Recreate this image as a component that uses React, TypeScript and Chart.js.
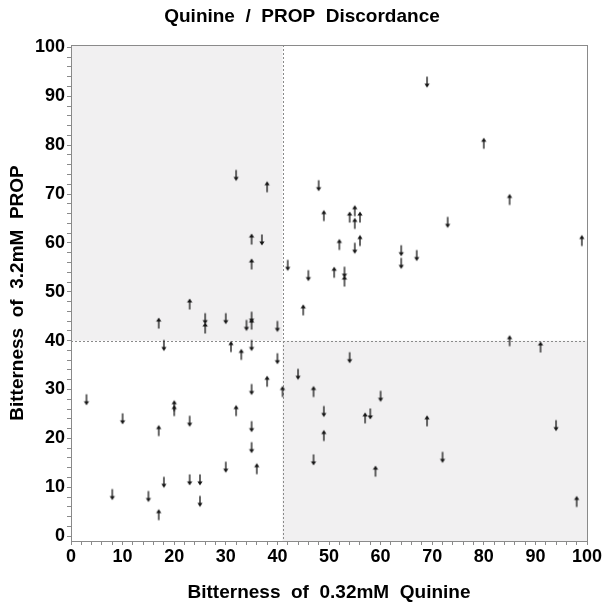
import { useEffect, useRef } from 'react';
import { Chart, registerables } from 'chart.js';

Chart.register(...registerables);

// Bitterness of 0.32mM Quinine (x) and 3.2mM PROP (y), arrow up
const upQuinine = [38, 49, 80, 85, 54, 55, 56, 55, 35, 35, 23, 45, 17, 26, 35, 31, 33, 99, 52, 56, 51, 53, 85, 91, 38, 41, 47, 20, 20, 32, 17, 49, 36, 17, 57, 69, 59, 98];
const upProp = [71.5, 65.6, 80.4, 68.9, 65.3, 66.6, 65.3, 64.0, 60.8, 55.7, 47.5, 46.3, 43.6, 42.6, 43.4, 38.8, 37.2, 60.5, 59.7, 60.5, 54.0, 52.2, 40.0, 38.7, 31.7, 29.6, 29.6, 26.7, 25.7, 25.7, 21.6, 20.6, 13.8, 4.4, 24.2, 23.6, 13.3, 7.1];

// arrow down
const downQuinine = [32, 48, 69, 73, 37, 42, 46, 26, 30, 34, 35, 40, 18, 35, 40, 55, 64, 64, 67, 53, 54, 44, 35, 3, 49, 10, 23, 35, 35, 47, 30, 18, 23, 25, 8, 15, 25, 60, 58, 94, 72];
const downProp = [73.8, 71.7, 92.9, 64.2, 60.6, 55.4, 53.3, 44.5, 44.5, 43.1, 44.8, 42.9, 39.0, 39.0, 36.3, 58.9, 58.4, 55.8, 57.4, 54.0, 36.5, 33.1, 30.0, 27.9, 25.5, 24.0, 23.5, 22.4, 18.1, 15.6, 14.1, 11.0, 11.5, 11.5, 8.5, 8.1, 7.1, 28.6, 25.0, 22.6, 16.1];

const majorTicks = [0, 10, 20, 30, 40, 50, 60, 70, 80, 90, 100];
const minorTicks = [0, 2, 4, 6, 8, 10, 12, 14, 16, 18, 20, 22, 24, 26, 28, 30, 32, 34, 36, 38, 40, 42, 44, 46, 48, 50, 52, 54, 56, 58, 60, 62, 64, 66, 68, 70, 72, 74, 76, 78, 80, 82, 84, 86, 88, 90, 92, 94, 96, 98, 100];

const quinineCut = 41;
const propCut = 40;

const chartTitle = 'Quinine  /  PROP  Discordance';

const SHADE = '#f1f0f1';
const FRAME = '#8a8a8a';
const FONT = "'Liberation Sans', Arial, sans-serif";

function makeArrow(up: boolean): HTMLCanvasElement {
  const c = document.createElement('canvas');
  const w = 12;
  const h = 16;
  c.width = w;
  c.height = h;
  const ctx = c.getContext('2d')!;
  const cx = w / 2;
  const len = 11;
  const top = (h - len) / 2;
  const bot = top + len;
  const headH = 4;
  const headW = 2.6;
  ctx.fillStyle = '#151515';
  ctx.strokeStyle = '#151515';
  ctx.lineWidth = 1.3;
  ctx.beginPath();
  if (up) {
    ctx.moveTo(cx, top + headH - 1);
    ctx.lineTo(cx, bot);
  } else {
    ctx.moveTo(cx, top);
    ctx.lineTo(cx, bot - headH + 1);
  }
  ctx.stroke();
  ctx.beginPath();
  if (up) {
    ctx.moveTo(cx, top);
    ctx.lineTo(cx - headW, top + headH);
    ctx.lineTo(cx + headW, top + headH);
  } else {
    ctx.moveTo(cx, bot);
    ctx.lineTo(cx - headW, bot - headH);
    ctx.lineTo(cx + headW, bot - headH);
  }
  ctx.closePath();
  ctx.fill();
  return c;
}

const quadrantPlugin = {
  id: 'quadrants',
  beforeDraw(chart: any) {
    const { ctx, chartArea, scales } = chart;
    const xc = scales.x.getPixelForValue(quinineCut);
    const yc = scales.y.getPixelForValue(propCut);
    ctx.save();
    ctx.fillStyle = SHADE;
    ctx.fillRect(chartArea.left, chartArea.top, xc - chartArea.left, yc - chartArea.top);
    ctx.fillRect(xc, yc, chartArea.right - xc, chartArea.bottom - yc);
    ctx.restore();
  },
  beforeDatasetsDraw(chart: any) {
    const { ctx, chartArea, scales } = chart;
    const xc = Math.round(scales.x.getPixelForValue(quinineCut)) + 0.5;
    const yc = Math.round(scales.y.getPixelForValue(propCut)) + 0.5;
    ctx.save();
    ctx.strokeStyle = '#8a8a8a';
    ctx.lineWidth = 1;
    ctx.setLineDash([2, 2]);
    ctx.beginPath();
    ctx.moveTo(xc, chartArea.top);
    ctx.lineTo(xc, chartArea.bottom);
    ctx.moveTo(chartArea.left, yc);
    ctx.lineTo(chartArea.right, yc);
    ctx.stroke();
    ctx.restore();
  },
  afterDraw(chart: any) {
    const { ctx, chartArea, width } = chart;
    ctx.save();
    ctx.strokeStyle = FRAME;
    ctx.lineWidth = 1;
    ctx.strokeRect(
      Math.round(chartArea.left) + 0.5,
      Math.round(chartArea.top) + 0.5,
      Math.round(chartArea.right - chartArea.left),
      Math.round(chartArea.bottom - chartArea.top)
    );
    ctx.fillStyle = '#000';
    ctx.font = `bold 19px ${FONT}`;
    ctx.textAlign = 'center';
    ctx.textBaseline = 'middle';
    ctx.fillText(chartTitle, width / 2, 17);
    ctx.restore();
  },
};

export default function App() {
  const ref = useRef<HTMLCanvasElement | null>(null);

  useEffect(() => {
    document.body.style.margin = '0';
    const canvas = ref.current;
    if (!canvas) return;
    const upArrow = makeArrow(true);
    const downArrow = makeArrow(false);

    const tickFont = { family: FONT, size: 18, weight: 'bold' as const };
    const titleFont = { family: FONT, size: 19, weight: 'bold' as const };

    const chart = new Chart(canvas, {
      type: 'scatter',
      data: {
        datasets: [
          {
            label: 'up',
            data: upQuinine.map((v, i) => ({ x: v, y: upProp[i] })),
            pointStyle: upArrow,
            pointRadius: 7,
          },
          {
            label: 'down',
            data: downQuinine.map((v, i) => ({ x: v, y: downProp[i] })),
            pointStyle: downArrow,
            pointRadius: 7,
          },
        ],
      },
      plugins: [quadrantPlugin],
      options: {
        responsive: false,
        animation: false,
        devicePixelRatio: 1,
        layout: { padding: { top: 45, right: 17, left: 0, bottom: 0 } },
        plugins: {
          legend: { display: false },
          tooltip: { enabled: false },
          title: { display: false },
        },
        scales: {
          x: {
            type: 'linear',
            min: 0,
            max: 100,
            afterBuildTicks: (s: any) => {
              s.ticks = minorTicks.map((v) => ({ value: v }));
            },
            afterFit: (s: any) => {
              s.height = 69;
            },
            ticks: {
              autoSkip: false,
              maxRotation: 0,
              padding: 1,
              color: '#000',
              font: tickFont,
              callback: (v: any) => (majorTicks.includes(Number(v)) ? String(v) : ''),
            },
            grid: { drawOnChartArea: false, drawTicks: true, tickLength: 4, color: FRAME },
            border: { display: true, color: FRAME },
            title: {
              display: true,
              text: 'Bitterness  of  0.32mM  Quinine',
              color: '#000',
              font: titleFont,
              padding: 6,
            },
          },
          y: {
            type: 'linear',
            min: -1,
            max: 100.5,
            afterBuildTicks: (s: any) => {
              s.ticks = minorTicks.map((v) => ({ value: v }));
            },
            afterFit: (s: any) => {
              s.width = 71;
            },
            ticks: {
              autoSkip: false,
              padding: 2,
              color: '#000',
              font: tickFont,
              callback: (v: any) => (majorTicks.includes(Number(v)) ? String(v) : ''),
            },
            grid: { drawOnChartArea: false, drawTicks: true, tickLength: 4, color: FRAME },
            border: { display: true, color: FRAME },
            title: {
              display: true,
              text: 'Bitterness  of  3.2mM  PROP',
              color: '#000',
              font: titleFont,
              padding: 6,
            },
          },
        },
      },
    });
    return () => chart.destroy();
  }, []);

  return <canvas ref={ref} width={604} height={610} style={{ display: 'block' }} />;
}
